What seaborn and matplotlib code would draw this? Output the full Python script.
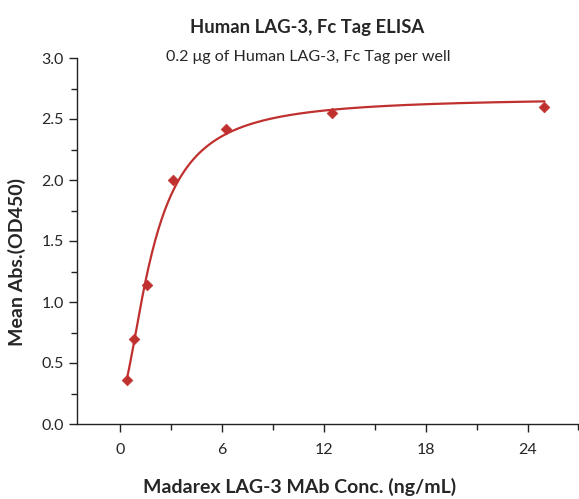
import numpy as np
import matplotlib
matplotlib.use("Agg")
import matplotlib.pyplot as plt
import seaborn as sns
from matplotlib.ticker import MultipleLocator

conc = [0.39, 0.78, 1.56, 3.125, 6.25, 12.5, 25.0]
absorb = [0.36, 0.70, 1.14, 2.00, 2.42, 2.55, 2.60]
x_ticks = [0, 6, 12, 18, 24]
y_ticks = [0.0, 0.5, 1.0, 1.5, 2.0, 2.5, 3.0]
title = "Human LAG-3, Fc Tag ELISA"
subtitle = "0.2 \u03bcg of Human LAG-3, Fc Tag per well"
xlabel = "Madarex LAG-3 MAb Conc. (ng/mL)"
ylabel = "Mean Abs.(OD450)"

# weighted 4PL fit (grid search on b, c; weighted linear least squares for a, d)
xd = np.array(conc); yd = np.array(absorb)
w = yd ** -0.75
best = None
for b in np.linspace(0.5, 4, 141):
    for c in np.linspace(0.5, 10, 191):
        g = 1.0 / (1.0 + (xd / c) ** b)
        A = np.vstack([g, 1 - g]).T
        coef, *_ = np.linalg.lstsq(A * w[:, None], yd * w, rcond=None)
        r = np.sum(((A @ coef - yd) * w) ** 2)
        if best is None or r < best[0]:
            best = (r, b, c, coef)
_, b, c, (a, d) = best
xf = np.linspace(min(conc), max(conc), 400)
gf = 1.0 / (1.0 + (xf / c) ** b)
yf = a * gf + d * (1 - gf)

sns.set_style("ticks")
plt.rcParams['font.family'] = ['Lato', 'DejaVu Sans']

fig = plt.figure(figsize=(5.79, 4.99), dpi=100)
ax = fig.add_axes([77/579, 1 - 424/499, 1 - 77/579 - 0.001, (424 - 58)/499])
red = "#c0302e"
sns.lineplot(x=xf, y=yf, ax=ax, color=red, linewidth=1.6)
sns.scatterplot(x=conc, y=absorb, ax=ax, marker="D", color=red, s=30, edgecolor=red, zorder=3)

ax.set_xlim(-2.55, 27.0)
ax.set_ylim(0, 3.0)
ax.set_xticks(x_ticks)
ax.set_yticks(y_ticks)
ax.set_yticklabels([f"{v:.1f}" for v in y_ticks])
ax.xaxis.set_minor_locator(MultipleLocator(3))
ax.yaxis.set_minor_locator(MultipleLocator(0.25))
ax.tick_params(axis='both', which='major', length=6, width=1.0, labelsize=11.5, direction='out', color='#222222')
ax.tick_params(axis='both', which='minor', length=4, width=1.0, direction='out', color='#222222')
ax.tick_params(axis='x', pad=8)
ax.spines['top'].set_visible(False)
ax.spines['right'].set_visible(False)
for s in ['left', 'bottom']:
    ax.spines[s].set_linewidth(1.0)
    ax.spines[s].set_color('#222222')

ax.set_xlabel(xlabel, fontsize=14, fontweight='bold')
ax.set_ylabel(ylabel, fontsize=14, fontweight='bold')
ax.xaxis.set_label_coords(0.444, (424 - 487) / 366, transform=ax.transAxes)
ax.yaxis.set_label_coords((17 - 77) / 502, 0.443, transform=ax.transAxes)
ax.xaxis.label.set_va('center')
ax.yaxis.label.set_va('center')
fig.text(307/579, 1 - 27/499, title, ha='center', va='center', fontsize=13.3, fontweight='bold')
fig.text(308/579, 1 - 57/499, subtitle, ha='center', va='center', fontsize=11.6)

fig.savefig("out.png", dpi=100)
